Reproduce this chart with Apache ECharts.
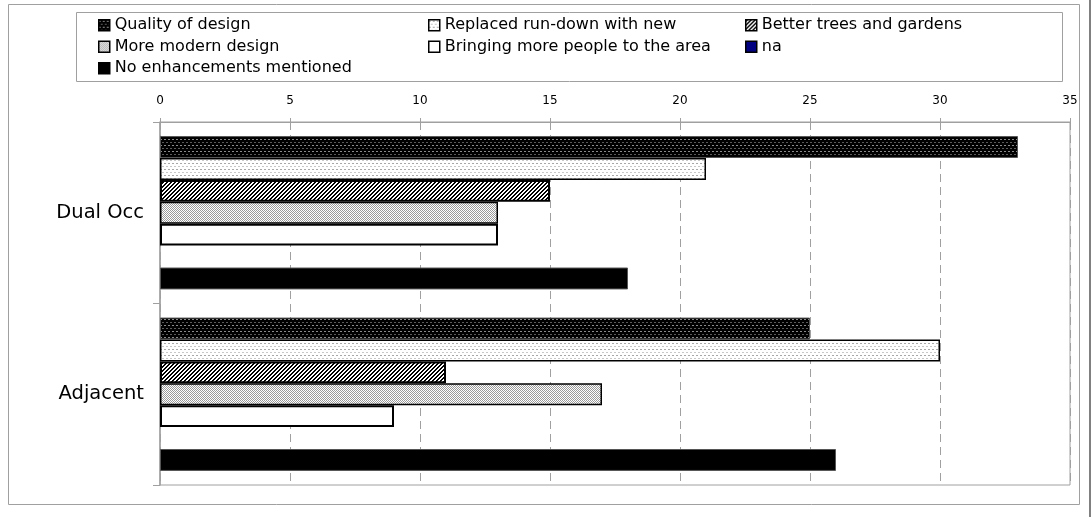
<!DOCTYPE html>
<html>
<head>
<meta charset="utf-8">
<script src="https://cdn.jsdelivr.net/npm/echarts@6/dist/echarts.min.js"></script>
<style>html,body{margin:0;padding:0;background:#fff;}#c{width:1091px;height:517px;}</style>
</head>
<body>
<div id="c"></div>
<script>
const categories = ['Dual Occ', 'Adjacent'];
const seriesNames = ['Quality of design', 'Replaced run-down with new', 'Better trees and gardens',
  'More modern design', 'Bringing more people to the area', 'na', 'No enhancements mentioned'];
const quality = [33, 25];
const replaced = [21, 30];
const trees = [15, 11];
const modern = [13, 17];
const bringing = [13, 9];
const naVals = [0, 0];
const noEnh = [18, 26];
const xMin = 0, xMax = 35, xStep = 5;

function tile(w, h, bg, draw) {
  const c = document.createElement('canvas');
  c.width = w; c.height = h;
  const g = c.getContext('2d');
  g.fillStyle = bg; g.fillRect(0, 0, w, h);
  draw(g);
  return { image: c, repeat: 'repeat' };
}
const patQuality = tile(8, 6, '#000', g => {
  g.fillStyle = '#8a8a8a';
  g.fillRect(0, 1, 2, 1); g.fillRect(4, 1, 2, 1);
  g.fillStyle = '#5a5a5a';
  g.fillRect(2, 4, 2, 1); g.fillRect(6, 4, 2, 1);
});
const patReplaced = tile(8, 6, '#fff', g => {
  g.fillStyle = '#a8a8a8';
  g.fillRect(0, 1, 2, 1); g.fillRect(4, 1, 2, 1);
  g.fillStyle = '#c8c8c8';
  g.fillRect(2, 4, 2, 1); g.fillRect(6, 4, 2, 1);
});
const patTrees = tile(4, 4, '#fff', g => {
  g.fillStyle = '#000';
  for (let x = 0; x < 4; x++) for (let y = 0; y < 4; y++) if ((x + y) % 4 < 2) g.fillRect(x, y, 1, 1);
});
const patModern = tile(2, 2, '#fff', g => {
  g.fillStyle = '#9a9a9a';
  g.fillRect(0, 0, 1, 1); g.fillRect(1, 1, 1, 1);
});

const styles = [
  { color: patQuality, borderColor: '#555', borderWidth: 1 },
  { color: patReplaced, borderColor: '#000', borderWidth: 1.5 },
  { color: patTrees, borderColor: '#000', borderWidth: 2 },
  { color: patModern, borderColor: '#000', borderWidth: 1.5 },
  { color: '#fff', borderColor: '#000', borderWidth: 2 },
  { color: '#000080', borderColor: '#000', borderWidth: 0 },
  { color: '#000', borderColor: '#555', borderWidth: 1 }
];
const values = [quality, replaced, trees, modern, bringing, naVals, noEnh];

const FONT = 'DejaVu Sans';
const legendBase = {
  orient: 'vertical', top: 14.5, padding: 0, itemGap: 0, itemWidth: 11, itemHeight: 11,
  icon: 'rect', selectedMode: false,
  itemStyle: { borderColor: '#000', borderWidth: 1.5 },
  textStyle: { fontFamily: FONT, fontSize: 16, lineHeight: 21.5, color: '#000' }
};

const chart = echarts.init(document.getElementById('c'));
chart.setOption({
  animation: false,
  backgroundColor: '#fff',
  graphic: [
    { type: 'rect', shape: { x: 8.5, y: 4.5, width: 1071, height: 500 }, style: { fill: 'none', stroke: '#a0a0a0', lineWidth: 1 }, silent: true, z: -10 },
    { type: 'rect', shape: { x: 76.5, y: 12.5, width: 986, height: 69 }, style: { fill: 'none', stroke: '#a0a0a0', lineWidth: 1 }, silent: true, z: -10 },
    { type: 'rect', shape: { x: 1089, y: 0, width: 2, height: 517 }, style: { fill: '#808080' }, silent: true, z: -10 }
  ],
  legend: [
    Object.assign({}, legendBase, { left: 98, data: [seriesNames[0], seriesNames[3], seriesNames[6]] }),
    Object.assign({}, legendBase, { left: 428, data: [seriesNames[1], seriesNames[4]] }),
    Object.assign({}, legendBase, { left: 745, data: [seriesNames[2], seriesNames[5]] })
  ],
  grid: { left: 160, right: 21, top: 122, bottom: 32, show: true, borderColor: '#a0a0a0', borderWidth: 1, backgroundColor: 'transparent' },
  xAxis: {
    type: 'value', position: 'top', min: xMin, max: xMax, interval: xStep,
    axisLine: { show: true, lineStyle: { color: '#a0a0a0', width: 1 } },
    axisTick: { show: true, length: 4, lineStyle: { color: '#a0a0a0' } },
    axisLabel: { margin: 15, fontFamily: FONT, fontSize: 12, color: '#000' },
    splitLine: { show: true, lineStyle: { color: '#a0a0a0', type: [8, 5], width: 1 } }
  },
  yAxis: {
    type: 'category', data: categories, inverse: true,
    axisLine: { show: true, lineStyle: { color: '#a0a0a0', width: 1.5 } },
    axisTick: { show: true, length: 7, lineStyle: { color: '#a0a0a0' } },
    axisLabel: { margin: 16, fontFamily: FONT, fontSize: 19.5, color: '#000' }
  },
  series: seriesNames.map((n, i) => ({
    name: n, type: 'bar', data: values[i], barGap: '0%', barCategoryGap: '15.5%',
    itemStyle: styles[i], emphasis: { disabled: true }
  }))
});
</script>
</body>
</html>
